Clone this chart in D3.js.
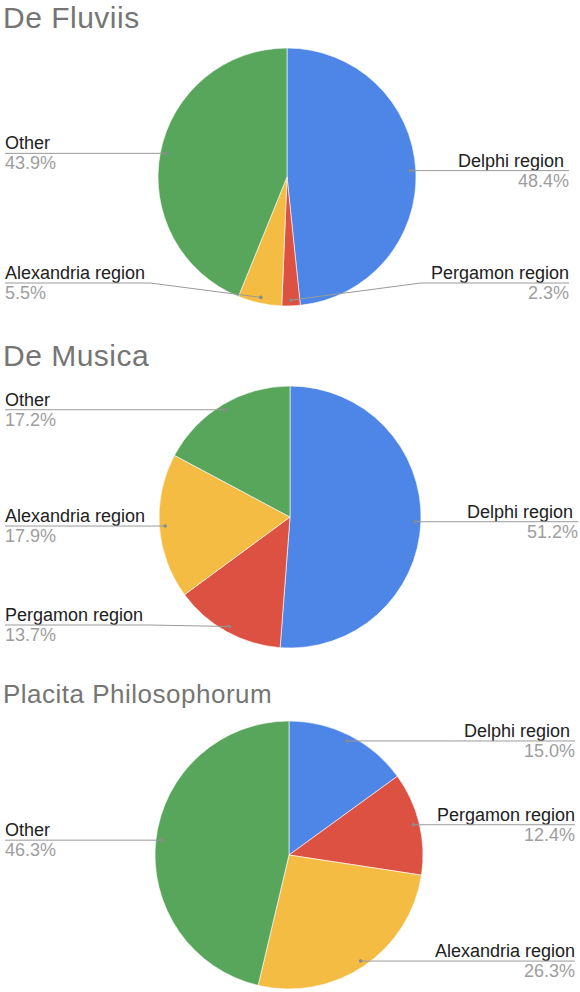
<!DOCTYPE html>
<html>
<head>
<meta charset="utf-8">
<script src="https://cdn.jsdelivr.net/npm/d3@7"></script>
<style>
  body { margin: 0; background: #fff; }
  svg { display: block; font-family: "Liberation Sans", Arial, sans-serif; }
</style>
</head>
<body>
<svg id="chart" width="580" height="992"></svg>
<script>
"use strict";

// ── Data ─────────────────────────────────────────────────────────────
const regions = ["Delphi region ", "Pergamon region", "Alexandria region", "Other"];
const regionColors = ["#4e86e8", "#dc5141", "#f4bc43", "#58a65c"];

const fluviisShare = [48.4, 2.3, 5.5, 43.9];
const musicaShare  = [51.2, 13.7, 17.9, 17.2];
const placitaShare = [15.0, 12.4, 26.3, 46.3];

const titles = ["De Fluviis", "De Musica", "Placita Philosophorum"];

// layout for each panel (positions only)
const panels = [
  { title: titles[0], values: fluviisShare, cx: 287, cy: 177, r: 129, titleY: 28,  titleSize: 30, right: 569 },
  { title: titles[1], values: musicaShare,  cx: 290, cy: 517, r: 131, titleY: 366, titleSize: 30, right: 578 },
  { title: titles[2], values: placitaShare, cx: 289, cy: 855, r: 134, titleY: 703, titleSize: 26, right: 575 }
];

const svg = d3.select("#chart");
const fmt = d3.format(".1f");

panels.forEach(drawPanel);

function drawPanel(p) {
  const g = svg.append("g");

  g.append("text")
    .attr("x", 3).attr("y", p.titleY)
    .attr("font-size", p.titleSize)
    .attr("letter-spacing", 0.5)
    .attr("fill", "#757575")
    .text(p.title);

  const pie = d3.pie().sort(null).value(d => d.value);
  const slices = pie(regions.map((name, i) => ({ name, value: p.values[i], color: regionColors[i] })));

  const arc = d3.arc().innerRadius(0).outerRadius(p.r);
  const dotR = p.r * 0.955;
  const dotArc = d3.arc().innerRadius(dotR).outerRadius(dotR);

  const pg = g.append("g").attr("transform", `translate(${p.cx},${p.cy})`);
  pg.selectAll("path")
    .data(slices)
    .join("path")
    .attr("d", arc)
    .attr("fill", d => d.data.color)
    .attr("stroke", "#fff")
    .attr("stroke-width", 0.6);

  // labeled legend: name above a leader line, percentage below
  slices.forEach(d => {
    const [dx, dy] = dotArc.centroid(d);
    const px = p.cx + dx, py = p.cy + dy;
    const mid = (d.startAngle + d.endAngle) / 2;
    const left = mid > Math.PI;
    const lineY = Math.min(py, p.cy + p.r - 23);
    const edge = left ? 5 : p.right;
    const anchor = left ? "start" : "end";

    const name = g.append("text")
      .attr("x", edge).attr("y", lineY - 4)
      .attr("text-anchor", anchor)
      .attr("font-size", 18)
      .attr("fill", "#212121")
      .style("white-space", "pre")
      .text(d.data.name);

    g.append("text")
      .attr("x", edge).attr("y", lineY + 16)
      .attr("text-anchor", anchor)
      .attr("font-size", 18)
      .attr("fill", "#9e9e9e")
      .text(fmt(d.data.value) + "%");

    const w = name.node().getComputedTextLength();
    const elbow = left ? edge + w + 5 : edge - w - 10;

    g.append("path")
      .attr("d", d3.line()([[edge, lineY], [elbow, lineY], [px, py]]))
      .attr("fill", "none")
      .attr("stroke", "#9a9a9a")
      .attr("stroke-width", 1);

    g.append("circle")
      .attr("cx", px).attr("cy", py).attr("r", 1.8)
      .attr("fill", "#8a8a8a");
  });
}
</script>
</body>
</html>
